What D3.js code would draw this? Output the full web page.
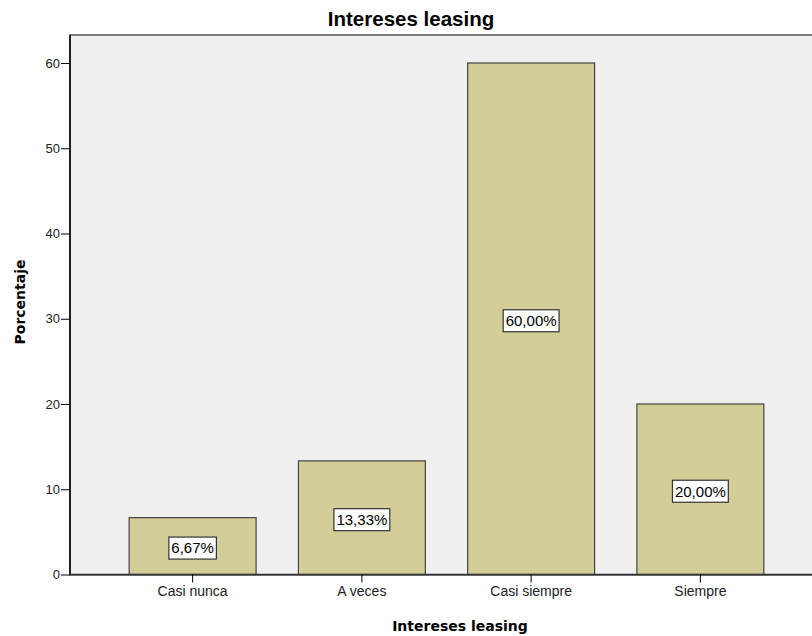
<!DOCTYPE html>
<html><head><meta charset="utf-8">
<script src="https://cdn.jsdelivr.net/npm/d3@7/dist/d3.min.js"></script>
<style>body{margin:0;background:#fff;}svg{display:block;font-family:"Liberation Sans",Arial,sans-serif;}</style>
</head><body>
<script>
const categories = ["Casi nunca","A veces","Casi siempre","Siempre"];
const values = [6.67,13.33,60,20];
const labels = ["6,67%","13,33%","60,00%","20,00%"];
const yTicks = [0,10,20,30,40,50,60];

const W=812,H=636;
const svg=d3.select("body").append("svg").attr("width",W).attr("height",H);
const plot={left:70,top:35,right:830,bottom:575};
const y=d3.scaleLinear().domain([0,60]).range([574.5,63]);
const x=d3.scaleBand().domain(categories).range([108,785]).paddingInner(0.25).paddingOuter(0.125);

svg.append("rect").attr("x",plot.left).attr("y",plot.top).attr("width",plot.right-plot.left).attr("height",plot.bottom-plot.top)
  .attr("fill","#f0f0f0").attr("stroke","#555").attr("stroke-width",1.5);

svg.append("text").attr("x",411).attr("y",26).attr("text-anchor","middle").attr("font-size",20.5).attr("font-weight","bold").text("Intereses leasing");

svg.selectAll("rect.bar").data(values).enter().append("rect").attr("class","bar")
  .attr("x",(d,i)=>x(categories[i])).attr("width",x.bandwidth())
  .attr("y",d=>y(d)).attr("height",d=>y(0)-y(d))
  .attr("fill","#d3ce97").attr("stroke","#444").attr("stroke-width",1.2);

const yAxis=svg.append("g").attr("transform",`translate(${plot.left},0)`).call(d3.axisLeft(y).tickValues(yTicks).tickSize(9).tickPadding(1).tickSizeOuter(0));
yAxis.select(".domain").remove();
yAxis.selectAll("text").attr("font-size",13).attr("fill","#222").attr("font-family","Liberation Sans, Arial, sans-serif");
yAxis.selectAll("line").attr("stroke","#000");
svg.append("line").attr("x1",plot.left).attr("x2",plot.left).attr("y1",plot.top).attr("y2",y(0)).attr("stroke","#000").attr("stroke-width",1.5);
svg.append("line").attr("x1",plot.left).attr("x2",W).attr("y1",y(0)).attr("y2",y(0)).attr("stroke","#333").attr("stroke-width",1.5);

const xAxis=svg.append("g").attr("transform",`translate(0,${y(0)})`).call(d3.axisBottom(x).tickSize(8).tickPadding(3).tickSizeOuter(0));
xAxis.select(".domain").remove();
xAxis.selectAll("text").attr("font-size",14).attr("fill","#222").attr("dy","0.75em").attr("font-family","Liberation Sans, Arial, sans-serif");
xAxis.selectAll("line").attr("stroke","#000");

const lg=svg.selectAll("g.lbl").data(values).enter().append("g").attr("class","lbl")
  .attr("transform",(d,i)=>`translate(${x(categories[i])+x.bandwidth()/2},${(y(d)+y(0))/2+2})`);
lg.append("text").attr("text-anchor","middle").attr("dy","0.36em").attr("font-size",15).attr("fill","#000").text((d,i)=>labels[i])
  .each(function(){
    const b=this.getBBox();
    d3.select(this.parentNode).insert("rect","text").attr("x",b.x-2.5).attr("y",-11).attr("width",b.width+5).attr("height",22)
      .attr("fill","#fff").attr("stroke","#333").attr("stroke-width",1.2);
  });

svg.append("text").attr("transform","translate(25,302) rotate(-90)").attr("text-anchor","middle").attr("font-size",14).attr("font-weight","bold").attr("font-family","DejaVu Sans").text("Porcentaje");
svg.append("text").attr("x",460).attr("y",631).attr("text-anchor","middle").attr("font-size",14).attr("font-weight","bold").attr("font-family","DejaVu Sans").text("Intereses leasing");
</script>
</body></html>
